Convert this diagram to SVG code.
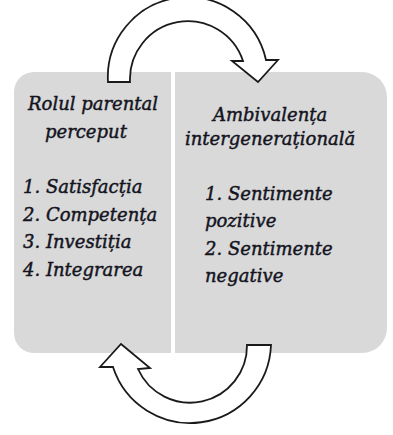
<svg xmlns="http://www.w3.org/2000/svg" width="393" height="435" viewBox="0 0 393 435">
<style>
.box{fill:#d9d9d9}
.arrow{fill:#ffffff;stroke:#1a1a1a;stroke-width:1.8;stroke-linejoin:miter}
.t{font-family:"DejaVu Serif","Liberation Serif",serif;font-style:italic;font-size:18px;fill:#14141e;stroke:#14141e;stroke-width:0.45}
</style>
<rect width="393" height="435" fill="#ffffff"/>
<g id="node-left">
<path class="box" d="M34,72 H171 V353 H34 A20,20 0 0 1 14,333 V92 A20,20 0 0 1 34,72 Z"/>
<text class="t" x="28" y="110">Rolul parental</text>
<text class="t" x="45" y="138">perceput</text>
<text class="t" x="23" y="193">1. Satisfacția</text>
<text class="t" x="23" y="221">2. Competența</text>
<text class="t" x="23" y="248">3. Investiția</text>
<text class="t" x="23" y="276">4. Integrarea</text>
</g>
<g id="node-right">
<path class="box" d="M175,72 H362 A25,25 0 0 1 387,97 V328 A25,25 0 0 1 362,353 H175 Z"/>
<text class="t" x="213" y="121">Ambivalența</text>
<text class="t" x="185" y="145">intergenerațională</text>
<text class="t" x="205" y="200">1. Sentimente</text>
<text class="t" x="205" y="227">pozitive</text>
<text class="t" x="205" y="255">2. Sentimente</text>
<text class="t" x="205" y="282">negative</text>
</g>
<g id="connectors">
<path class="arrow" d="M108,82 L130,82 A58,58 0 0 1 243,61 L232,61 L258,82 L278,60 L266,60 A80,80 0 0 0 108,82 Z"/>
<path class="arrow" d="M271,345 L247,345 A57,57 0 0 1 138,369 L150,368 L121,344 L100,367 L113,367 A81,81 0 0 0 271,345 Z"/>
</g>
</svg>
